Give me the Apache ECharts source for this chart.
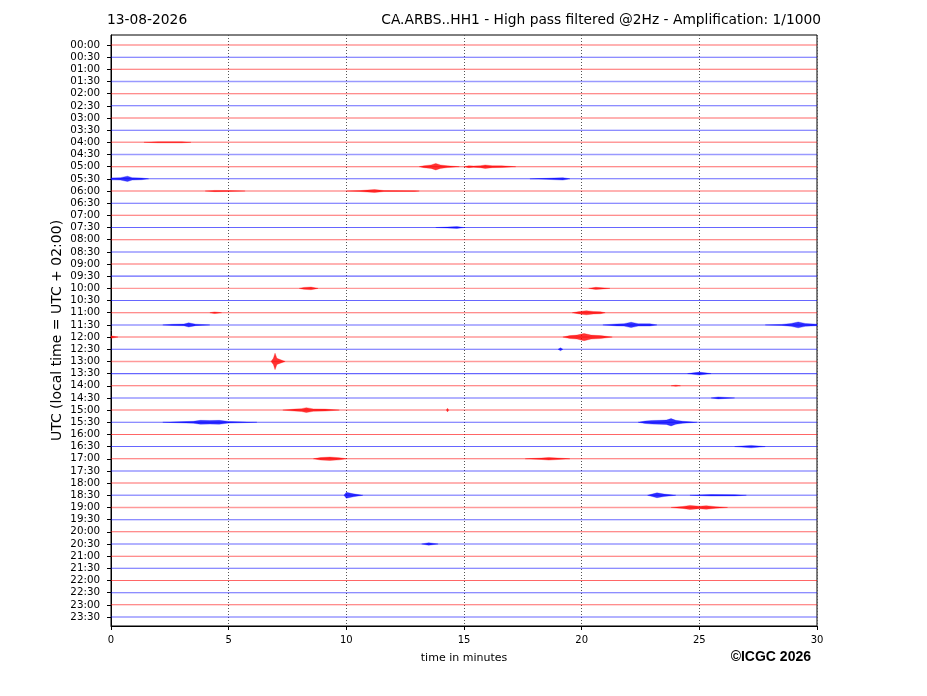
<!DOCTYPE html>
<html>
<head>
<meta charset="utf-8">
<script src="https://cdn.jsdelivr.net/npm/echarts@6/dist/echarts.min.js"></script>
<style>
  html, body { margin: 0; padding: 0; background: #fff; }
  #chartMain { width: 927px; height: 696px; }
</style>
</head>
<body>
<div id="chartMain"></div>
<script>
// one label per half hour trace
var traceLabels = [];
for (var h = 0; h < 24; h++) {
    var hh = (h < 10 ? '0' : '') + h;
    traceLabels.push(hh + ':00');
    traceLabels.push(hh + ':30');
}

// background noise half-amplitude of each trace (in trace spacing units)
var traceNoise = [
    0.04, 0.04, 0.04, 0.07, 0.04, 0.04, 0.04, 0.04, 0.06, 0.06,
    0.04, 0.04, 0.04, 0.04, 0.04, 0.04, 0.04, 0.04, 0.04, 0.05,
    0.06, 0.04, 0.04, 0.04, 0.04, 0.04, 0.06, 0.05, 0.04, 0.04,
    0.04, 0.05, 0.04, 0.04, 0.04, 0.04, 0.04, 0.06, 0.06, 0.04,
    0.04, 0.04, 0.04, 0.04, 0.04, 0.04, 0.04, 0.04
];

// detected bursts: which trace, and envelope [minute, half amplitude]
var eventTrace = [8, 10, 10, 11, 11, 12, 12, 15, 20, 20, 22, 22, 23, 23, 23, 24, 24,
    25, 26, 27, 28, 29, 30, 30, 31, 31, 33, 34, 34, 37, 37, 37, 38, 41];
var eventShape = [
    [[1.4, 0], [2.0, 0.04], [3.0, 0.04], [3.4, 0]],
    [[13.1, 0], [13.3, 0.08], [13.6, 0.14], [13.8, 0.27], [14.0, 0.14], [14.3, 0.07], [14.8, 0]],
    [[15.0, 0], [15.2, 0.08], [15.4, 0.05], [15.7, 0.08], [15.9, 0.14], [16.2, 0.08], [16.6, 0.07], [17.2, 0]],
    [[0, 0.08], [0.4, 0.1], [0.7, 0.22], [0.9, 0.1], [1.3, 0.07], [1.6, 0]],
    [[17.8, 0], [18.5, 0.04], [19.2, 0.1], [19.5, 0]],
    [[4.0, 0], [4.4, 0.05], [5.0, 0.04], [5.7, 0]],
    [[10.0, 0], [10.6, 0.04], [11.2, 0.12], [11.6, 0.04], [12.9, 0.03], [13.1, 0]],
    [[13.8, 0], [14.3, 0.04], [14.7, 0.08], [15.0, 0]],
    [[8.0, 0], [8.2, 0.08], [8.5, 0.11], [8.8, 0]],
    [[20.3, 0], [20.6, 0.09], [21.2, 0]],
    [[4.2, 0], [4.4, 0.07], [4.7, 0]],
    [[19.6, 0], [19.9, 0.1], [20.2, 0.17], [20.5, 0.1], [20.8, 0.08], [21.0, 0]],
    [[2.2, 0], [2.6, 0.05], [3.1, 0.07], [3.3, 0.17], [3.6, 0.06], [4.2, 0]],
    [[20.9, 0], [21.5, 0.08], [21.8, 0.1], [22.1, 0.22], [22.4, 0.1], [22.9, 0.09], [23.2, 0]],
    [[27.8, 0], [28.5, 0.04], [28.9, 0.12], [29.2, 0.24], [29.5, 0.12], [30, 0.06]],
    [[0, 0.1], [0.3, 0]],
    [[19.2, 0], [19.5, 0.12], [19.8, 0.16], [20.1, 0.3], [20.4, 0.16], [20.8, 0.12], [21.3, 0]],
    [[19.0, 0], [19.1, 0.12], [19.2, 0]],
    [[6.8, 0], [6.9, 0.25], [6.97, 0.68], [7.05, 0.25], [7.4, 0]],
    [[24.5, 0], [25.0, 0.12], [25.5, 0]],
    [[23.8, 0], [24.0, 0.05], [24.2, 0]],
    [[25.5, 0], [25.8, 0.08], [26.5, 0]],
    [[7.3, 0], [7.8, 0.08], [8.1, 0.12], [8.3, 0.2], [8.6, 0.1], [9.1, 0.08], [9.7, 0]],
    [[14.25, 0], [14.3, 0.15], [14.35, 0]],
    [[2.2, 0], [3.5, 0.08], [3.8, 0.16], [4.2, 0.15], [4.6, 0.16], [5.0, 0.07], [6.2, 0]],
    [[22.4, 0], [22.7, 0.1], [23.0, 0.15], [23.3, 0.16], [23.6, 0.18], [23.8, 0.3], [24.0, 0.16], [24.3, 0.08], [24.6, 0.04], [24.9, 0]],
    [[26.5, 0], [27.2, 0.1], [27.8, 0]],
    [[8.6, 0], [8.9, 0.1], [9.3, 0.14], [9.7, 0.09], [10.0, 0]],
    [[17.6, 0], [18.3, 0.06], [18.6, 0.11], [19.5, 0]],
    [[9.9, 0], [10.0, 0.24], [10.3, 0.12], [10.7, 0]],
    [[22.8, 0], [23.2, 0.2], [23.5, 0.1], [24.0, 0]],
    [[24.6, 0], [25.5, 0.06], [26.5, 0.05], [27.0, 0]],
    [[23.8, 0], [24.3, 0.08], [24.6, 0.17], [25.0, 0.1], [25.3, 0.15], [25.7, 0.06], [26.2, 0]],
    [[13.2, 0], [13.5, 0.1], [13.9, 0]]
];

var xTicks = [0, 5, 10, 15, 20, 25, 30];

var FONT = '"DejaVu Sans", sans-serif';

function traceColor(i, alpha) {
    return i % 2 === 0 ? 'rgba(255,0,0,' + alpha + ')' : 'rgba(0,0,255,' + alpha + ')';
}

var traceData = [];
var tickValues = [];
for (var i = 0; i < traceLabels.length; i++) {
    traceData.push([i, traceNoise[i]]);
    tickValues.push(i);
}
var eventData = eventTrace.map(function (t, k) { return [k, t]; });

var option = {
    backgroundColor: '#fff',
    animation: false,
    textStyle: { fontFamily: FONT },
    grid: {
        left: 111, top: 35, right: 110, bottom: 70,
        show: true, borderColor: '#000', borderWidth: 1, backgroundColor: 'transparent'
    },
    graphic: [
        { type: 'text', left: 107, top: 13,
          style: { text: '13-08-2026', font: '13.8px ' + FONT, fill: '#000' } },
        { type: 'text', right: 106, top: 13,
          style: { text: 'CA.ARBS..HH1 - High pass filtered @2Hz - Amplification: 1/1000', font: '13.8px ' + FONT, fill: '#000' } },
        { type: 'text', right: 116, top: 650,
          style: { text: '\u00a9ICGC 2026', font: 'bold 14px "Liberation Sans", Arial, sans-serif', fill: '#000' } }
    ],
    xAxis: {
        type: 'value', min: xTicks[0], max: xTicks[xTicks.length - 1], interval: 5,
        name: 'time in minutes', nameLocation: 'middle', nameGap: 27,
        nameTextStyle: { fontSize: 11, color: '#000', fontFamily: FONT },
        axisLine: { show: true, onZero: false, lineStyle: { color: '#000' } },
        axisTick: { show: true, length: 4, lineStyle: { color: '#000' } },
        axisLabel: { fontSize: 10, color: '#000', margin: 9, fontFamily: FONT },
        splitLine: { show: true, lineStyle: { color: '#555', type: [1, 2], width: 1 } }
    },
    yAxis: {
        type: 'value', inverse: true, min: -0.82, max: 47.74,
        name: 'UTC (local time = UTC + 02:00)', nameLocation: 'middle', nameGap: 47, nameRotate: 90,
        nameMoveOverlap: false,
        nameTextStyle: { fontSize: 14, color: '#000', fontFamily: FONT },
        axisLine: { show: true, onZero: false, lineStyle: { color: '#000' } },
        axisTick: { show: true, length: 4, customValues: tickValues, lineStyle: { color: '#000' } },
        axisLabel: {
            fontSize: 10.3, color: '#000', margin: 11, fontFamily: FONT,
            customValues: tickValues,
            formatter: function (v) { return traceLabels[Math.round(v)]; }
        },
        splitLine: { show: false }
    },
    series: [
        {
            // the 48 half hour traces
            type: 'custom', name: 'traces', z: 2,
            data: traceData,
            encode: { x: -1, y: 0 },
            renderItem: function (params, api) {
                var idx = api.value(0), n = api.value(1);
                var a = api.coord([0, idx - n]);
                var b = api.coord([30, idx + n]);
                var mid = (a[1] + b[1]) / 2;
                var hgt = Math.max(1, Math.abs(b[1] - a[1]));
                return {
                    type: 'rect',
                    shape: { x: a[0], y: mid - hgt / 2, width: b[0] - a[0], height: hgt },
                    style: { fill: traceColor(idx, hgt > 1.3 ? 0.4 : 0.6) }
                };
            }
        },
        {
            // bursts drawn as their envelope around the trace baseline
            type: 'custom', name: 'events', z: 3,
            data: eventData,
            encode: { x: -1, y: 1 },
            renderItem: function (params, api) {
                var k = api.value(0), t = api.value(1);
                var env = eventShape[k];
                var pts = [];
                for (var j = 0; j < env.length; j++) {
                    pts.push(api.coord([env[j][0], t - env[j][1]]));
                }
                for (var j2 = env.length - 1; j2 >= 0; j2--) {
                    pts.push(api.coord([env[j2][0], t + env[j2][1]]));
                }
                return {
                    type: 'polygon',
                    shape: { points: pts },
                    style: { fill: traceColor(t, 0.8), stroke: traceColor(t, 0.45), lineWidth: 0.6 }
                };
            }
        }
    ]
};

var mychart = echarts.init(document.getElementById('chartMain'));
mychart.setOption(option);
</script>
</body>
</html>
